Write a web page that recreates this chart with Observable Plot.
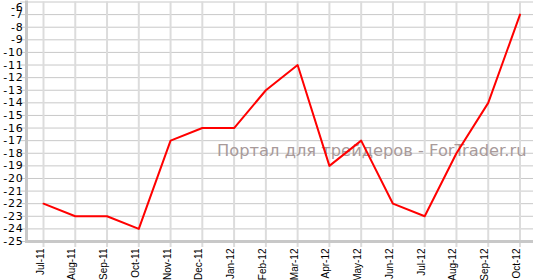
<!DOCTYPE html>
<html>
<head>
<meta charset="utf-8">
<script src="https://cdn.jsdelivr.net/npm/d3@7"></script>
<script src="https://cdn.jsdelivr.net/npm/@observablehq/plot@0.6"></script>
<style>
  html, body { margin: 0; padding: 0; background: #fff; }
  #chart svg { display: block; overflow: visible; }
  .ylab text { letter-spacing: 0.8px; }
</style>
</head>
<body>
<div id="chart"></div>
<script>
const months = ["Jul-11","Aug-11","Sep-11","Oct-11","Nov-11","Dec-11","Jan-12","Feb-12","Mar-12","Apr-12","May-12","Jun-12","Jul-12","Aug-12","Sep-12","Oct-12"];
const values = [-22,-23,-23,-24,-17,-16,-16,-13,-11,-19,-17,-22,-23,-18,-14,-7];
const yTicks = [-25,-24,-23,-22,-21,-20,-19,-18,-17,-16,-15,-14,-13,-12,-11,-10,-9,-8,-7,-6];
const watermark = "Портал для трейдеров - ForTrader.ru";

const data = months.map((m, i) => ({month: m, value: values[i]}));
const font = "DejaVu Sans, Verdana, sans-serif";

const chart = Plot.plot({
  width: 533,
  height: 280,
  marginLeft: 26,
  marginRight: 0,
  marginTop: 1.5,
  marginBottom: 39,
  style: {fontFamily: font, background: "#fff"},
  x: {type: "point", domain: months, range: [43, 519.5], padding: 0, inset: 0, round: false, axis: null},
  y: {domain: [-25, -6], range: [241, 1.5], inset: 0, axis: null},
  marks: [
    Plot.ruleY(yTicks, {stroke: "#c8c8c8", strokeWidth: 1, insetLeft: -6}),
    Plot.ruleX(months, {stroke: "#dcdcdc", strokeWidth: 2, insetBottom: -6}),
    Plot.frame({anchor: "left", stroke: "#c8c8c8", strokeWidth: 3}),
    Plot.frame({anchor: "bottom", stroke: "#c8c8c8", strokeWidth: 3}),
    Plot.text([watermark], {frameAnchor: "right", dx: -7, dy: 29, textAnchor: "end", fontSize: 16.3, fill: "#a89a9a", fontFamily: font}),
    Plot.line(data, {x: "month", y: "value", stroke: "#ff0000", strokeWidth: 2}),
    Plot.text(yTicks.filter(t => t !== -6), {y: d => d, frameAnchor: "left", dx: -3, textAnchor: "end", fontSize: 11, fill: "#000", fontFamily: font, className: "ylab"}),
    Plot.text(yTicks.filter(t => t === -6), {y: d => d, frameAnchor: "left", dx: -3, dy: 5, textAnchor: "end", fontSize: 11, fill: "#000", fontFamily: font, className: "ylab"}),
    Plot.text(months, {x: d => d, frameAnchor: "bottom", rotate: -90, textAnchor: "end", dy: 7, fontSize: 10, fill: "#000", fontFamily: "Liberation Sans, Arial, sans-serif"})
  ]
});
document.getElementById("chart").append(chart);
</script>
</body>
</html>
